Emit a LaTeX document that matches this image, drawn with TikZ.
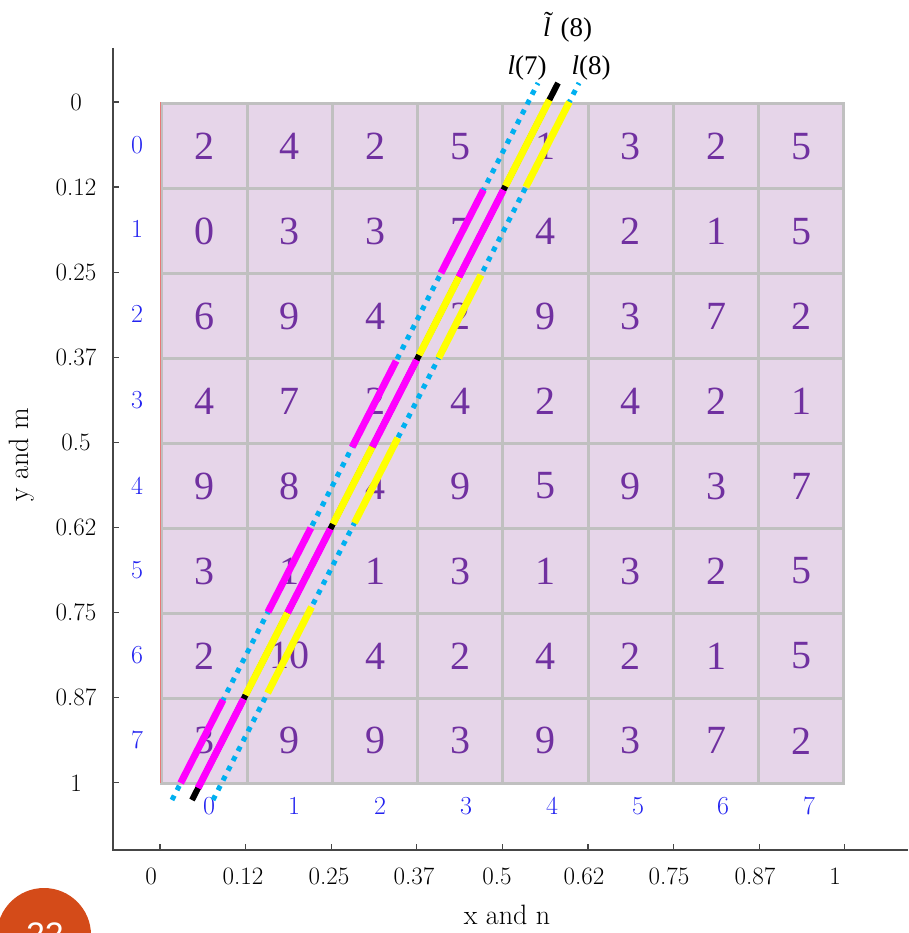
\documentclass[tikz,border=0pt]{standalone}
\usepackage{fontspec}
\newfontfamily\tms{Liberation Serif}
\newfontfamily\sns{Liberation Sans}
\usetikzlibrary{calc}
\definecolor{cellfill}{RGB}{230,213,233}
\definecolor{cellgray}{RGB}{192,192,192}
\definecolor{numpurple}{RGB}{112,48,160}
\definecolor{idxblue}{RGB}{35,35,240}
\definecolor{cyandot}{RGB}{0,176,240}
\definecolor{orangec}{RGB}{212,75,25}
\definecolor{axisgray}{RGB}{70,70,70}
\definecolor{redline}{RGB}{230,120,120}
\definecolor{magc}{RGB}{255,0,255}
\definecolor{yelc}{RGB}{255,255,0}
\newcommand\ovseg[4]{\draw[#1] ($(#2b)!{(800-#3)/717}!(#2t)$) -- ($(#2b)!{(800-#4)/717}!(#2t)$);}
\tikzset{
  cellbox/.style={draw=cellgray, line width=3pt, fill=cellfill, text=numpurple,
    minimum width=85.25pt, minimum height=84.9pt, inner sep=0pt,
    font=\tms\fontsize{40}{40}\selectfont},
  ticklab/.style={font=\fontsize{25}{25}\selectfont, text=black, inner sep=0pt},
  titlelab/.style={font=\fontsize{28}{28}\selectfont, text=black, inner sep=0pt},
  idxlab/.style={font=\fontsize{26}{26}\selectfont, text=idxblue, inner sep=0pt},
  axisline/.style={draw=axisgray, line width=1.3pt},
  dotline/.style={draw=cyandot, line width=5pt, dash pattern=on 5pt off 6pt},
  magseg/.style={draw=magc, line width=7pt},
  yelseg/.style={draw=yelc, line width=7pt},
  blackline/.style={draw=black, line width=6pt},
  llab/.style={font=\tms\fontsize{27}{27}\selectfont, inner sep=0pt}
}
\begin{document}
\begin{tikzpicture}[x=1pt,y=-1pt]
\useasboundingbox (0,0) rectangle (908,933);
% cells
\foreach \row/\vals in {0/{2,4,2,5,1,3,2,5},1/{0,3,3,7,4,2,1,5},2/{6,9,4,2,9,3,7,2},3/{4,7,2,4,2,4,2,1},4/{9,8,4,9,5,9,3,7},5/{3,1,1,3,1,3,2,5},6/{2,10,4,2,4,2,1,5},7/{3,9,9,3,9,3,7,2}}{
  \foreach \v [count=\c from 0] in \vals {
    \node[cellbox] (c\row\c) at (204.6+85.25*\c, 146.45+84.9*\row) {\v};
  }
}
\draw[redline, line width=1pt] (160,102) -- (160,783);
% axes
\draw[axisline] (113,48) -- (113,850) -- (908,850);
\foreach \k in {0,...,8} {
  \draw[axisline] (160+85.6*\k,850) -- (160+85.6*\k,844);
  \draw[axisline] (113,102+85.1*\k) -- (119,102+85.1*\k);
}
\foreach \t [count=\k from 0] in {0,0.12,0.25,0.37,0.5,0.62,0.75,0.87,1} {
  \node[ticklab] (yl\k) at (76,102+85.1*\k) {\t};
}
\foreach \t/\xx [count=\k from 0] in {0/151,0.12/243,0.25/329,0.37/414,0.5/497,0.62/584,0.75/669,0.87/755,1/835} {
  \node[ticklab] (xl\k) at (\xx,876) {\t};
}
\foreach \yy [count=\k from 0] in {145,229,314,400,486,570,655,740} {
  \node[idxlab] (ri\k) at (137,\yy) {\k};
}
\foreach \xx [count=\k from 0] in {209,294,380,466,552,638,723,809} {
  \node[idxlab] (ci\k) at (\xx,806) {\k};
}
\node[titlelab, rotate=90] (ylab) at (22,455) {y and m};
\node[titlelab] (xlab) at (507,915) {x and n};
% lines
\coordinate (Lb) at (172,800); \coordinate (Lt) at (538,83);
\coordinate (Cb) at (192,800); \coordinate (Ct) at (558,83);
\coordinate (Rb) at (213,800); \coordinate (Rt) at (579,83);
\draw[dotline] (Lb) -- (Lt);
\draw[dotline] (Rb) -- (Rt);
\draw[blackline] (Cb) -- (Ct);
\ovseg{magseg}{L}{783}{700}
\ovseg{magseg}{L}{612}{528}
\ovseg{magseg}{L}{447}{361}
\ovseg{magseg}{L}{273}{190}
\ovseg{magseg}{C}{788}{699}
\ovseg{magseg}{C}{613}{529}
\ovseg{magseg}{C}{447}{360}
\ovseg{magseg}{C}{277}{190}
\ovseg{yelseg}{C}{695}{613}
\ovseg{yelseg}{C}{524}{447}
\ovseg{yelseg}{C}{355}{277}
\ovseg{yelseg}{C}{186}{100}
\ovseg{yelseg}{R}{693}{607}
\ovseg{yelseg}{R}{523}{438}
\ovseg{yelseg}{R}{358}{275}
\ovseg{yelseg}{R}{187}{102}
% labels
\node[llab] (l7) at (527,68) {{\itshape l}(7)};
\node[llab] (l8) at (591,68) {{\itshape l}(8)};
\node[llab, anchor=base west] (lt) at (543,37) {{\itshape l}\llap{\raisebox{6.5pt}{\char"02DC}\kern-2.5pt}\kern10pt(8)};
% page badge
\fill[orangec] (44,935) circle (47);
\node[font=\sns\fontsize{34}{34}\selectfont, text=white, inner sep=0pt] (badge) at (45,935) {22};
\end{tikzpicture}
\end{document}
